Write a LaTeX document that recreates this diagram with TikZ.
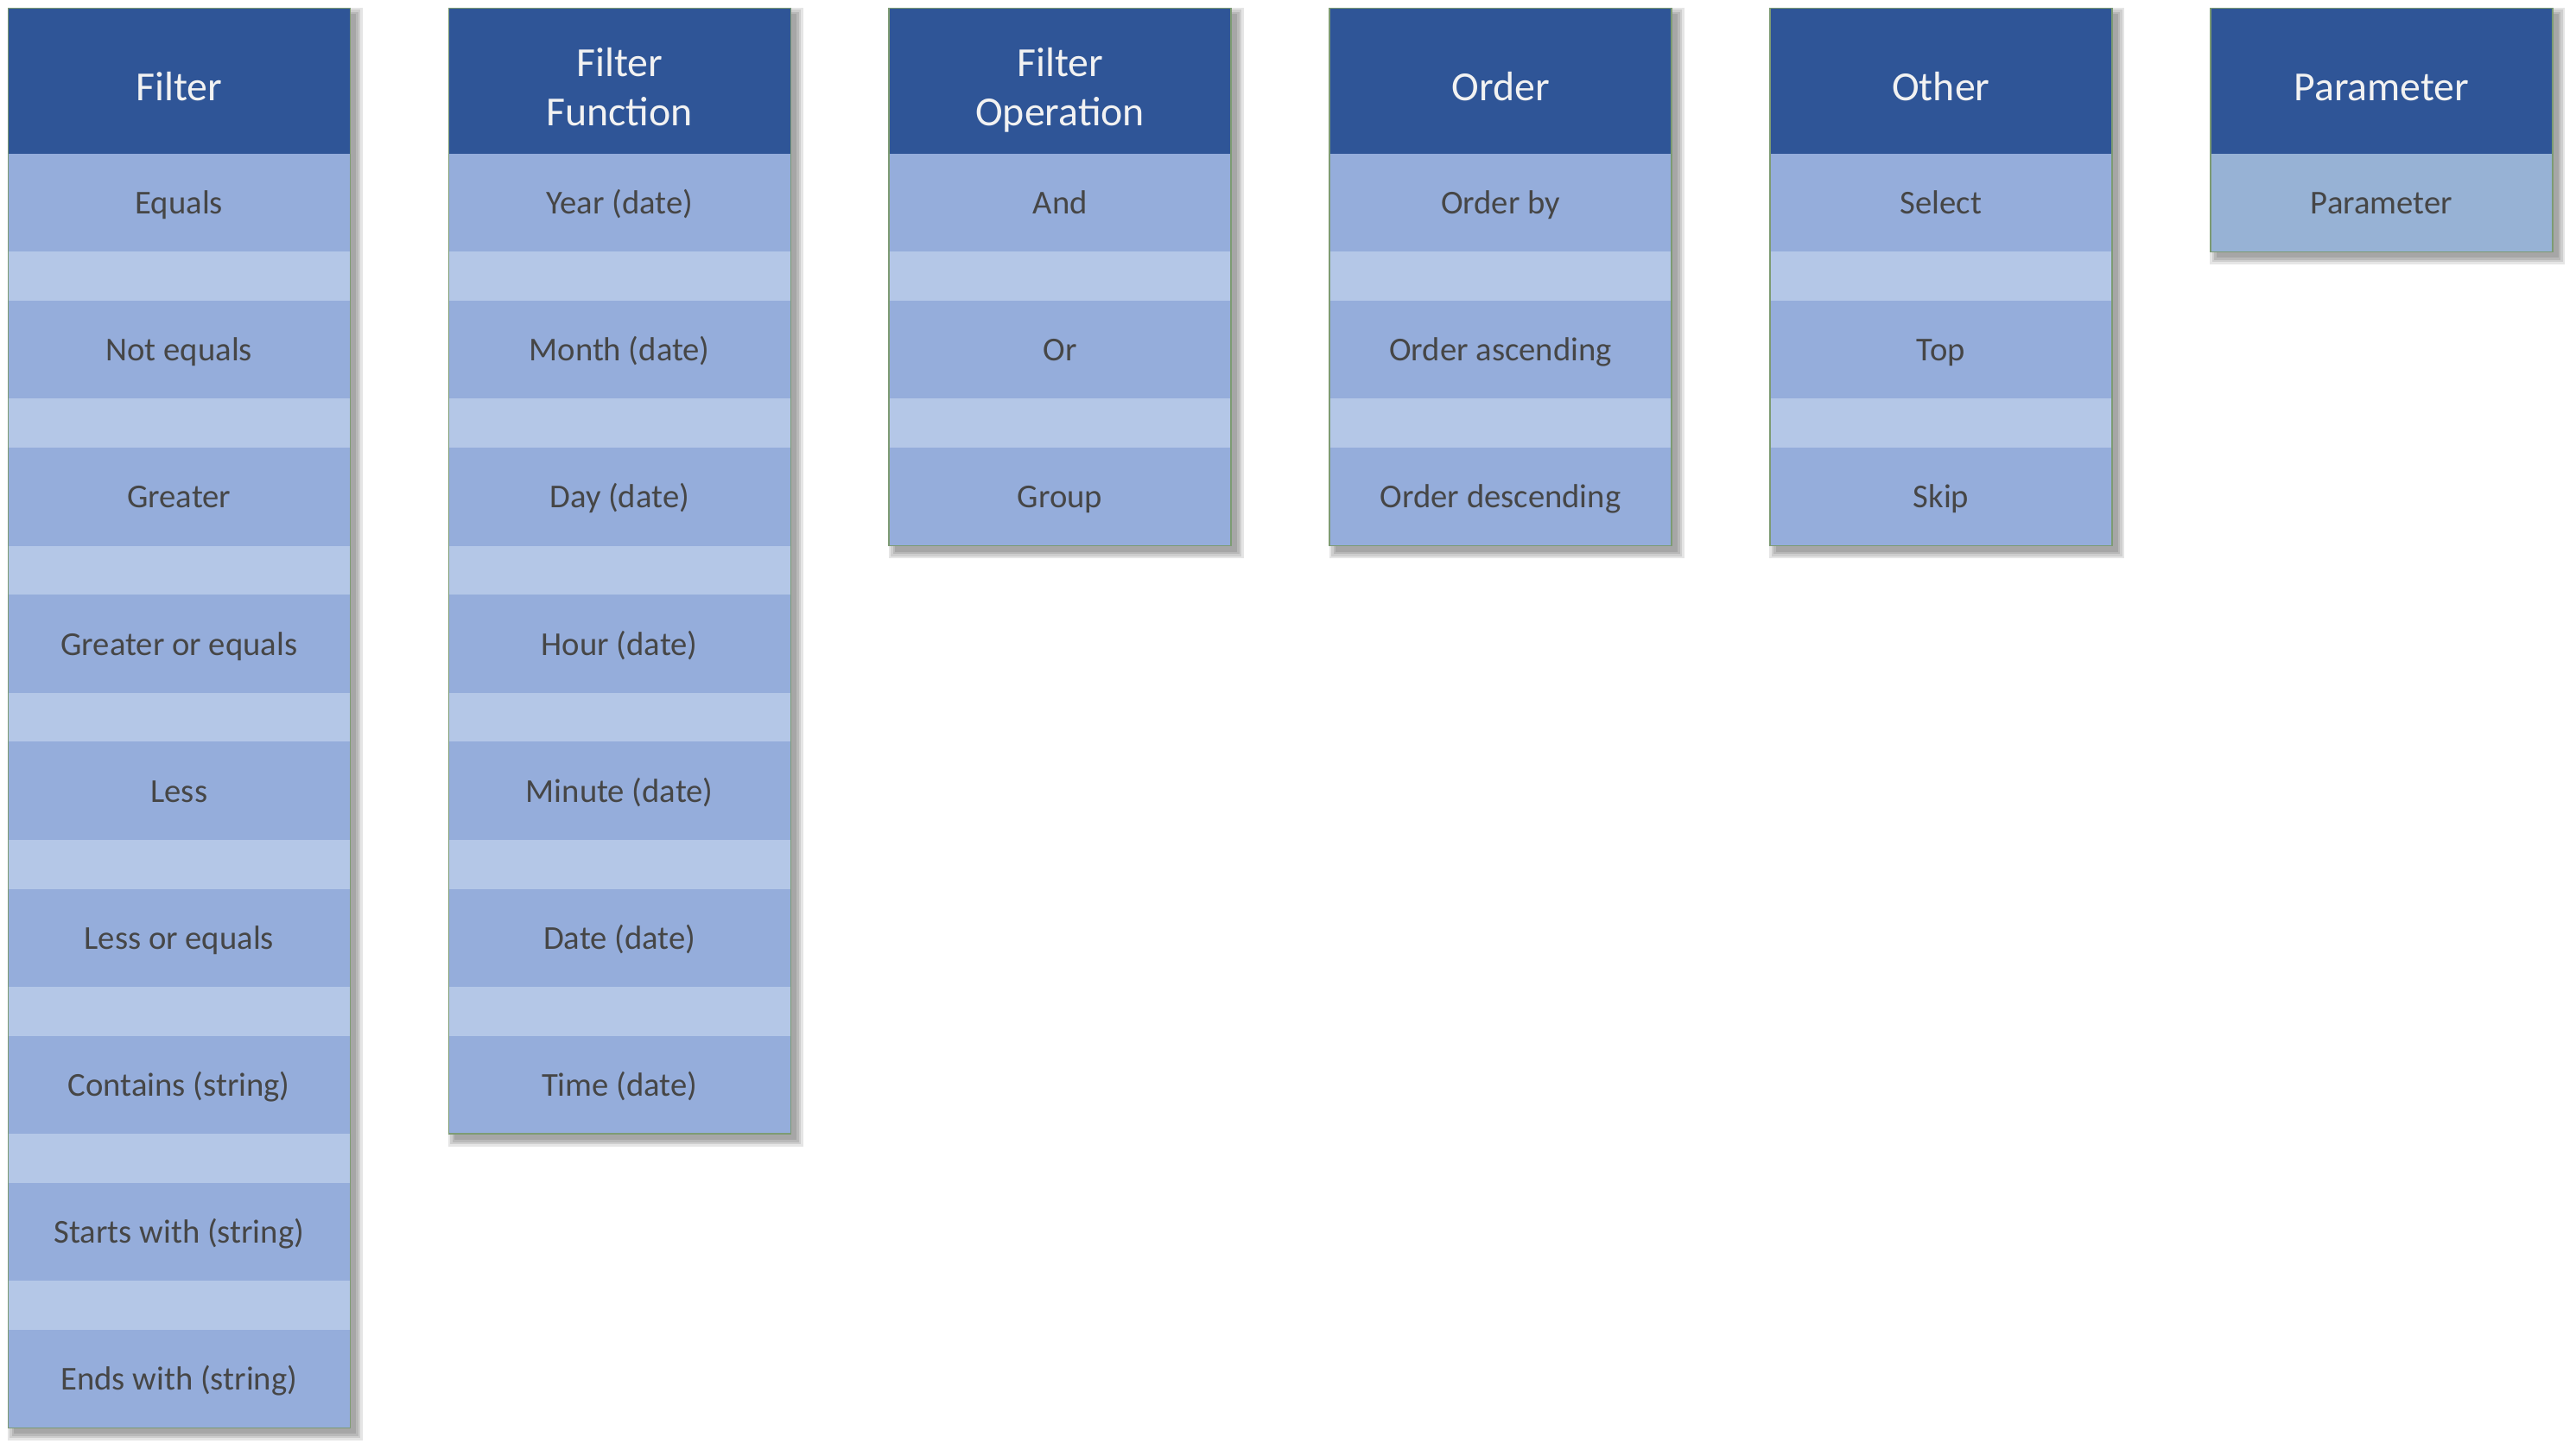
\documentclass[tikz,border=0pt]{standalone}
\usepackage{fontspec}
\setmainfont{Carlito}
\usetikzlibrary{calc, positioning, backgrounds}

\definecolor{headc}{RGB}{47,85,151}
\definecolor{itemc}{RGB}{149,173,219}
\definecolor{gapc}{RGB}{180,199,231}
\definecolor{parc}{RGB}{151,178,213}
\definecolor{edgec}{RGB}{125,155,115}
\definecolor{textc}{RGB}{70,70,70}

\tikzset{
  cell/.style={minimum width=3.96cm, outer sep=0pt, inner sep=0pt},
  head/.style={cell, fill=headc, minimum height=1.685cm, text=white!95!black,
    font=\fontsize{13.6}{16.1}\selectfont, text height=0.46cm, text depth=0pt},
  head2/.style={head, text height=1.026cm},
  item/.style={cell, fill=itemc, minimum height=1.134cm, text=textc,
    font=\fontsize{11}{13}\selectfont, text height=0.26cm, text depth=0pt},
  gap/.style={cell, fill=gapc, minimum height=0.567cm},
  frame/.style={draw=edgec, line width=0.4pt}
}

% two-line header text, baseline on its last line
\newcommand{\twoline}[2]{\begin{tabular}[b]{@{}c@{}}#1\\#2\end{tabular}}

% soft shadow and outline of one column, from its header to its last cell
\newcommand{\colframe}[2]{%
  \begin{scope}[on background layer]
    \foreach \e in {0,0.025,0.05,0.075}
      \fill[black, opacity=0.1] ($(#1.north west)+(0.07-\e,-0.07+\e)$)
        rectangle ($(#2.south east)+(0.07+\e,-0.07-\e)$);
  \end{scope}
  \draw[frame] (#1.north west) rectangle (#2.south east);}

\begin{document}
\begin{tikzpicture}
\useasboundingbox (0,0) rectangle (29.82,-16.78);

% Filter
\node[head, anchor=north west] (filt) at (0.093,-0.095) {Filter};
\node[item, below=0pt of filt] (filt1) {Equals};
\node[gap, below=0pt of filt1] (filt1g) {};
\node[item, below=0pt of filt1g] (filt2) {Not equals};
\node[gap, below=0pt of filt2] (filt2g) {};
\node[item, below=0pt of filt2g] (filt3) {Greater};
\node[gap, below=0pt of filt3] (filt3g) {};
\node[item, below=0pt of filt3g] (filt4) {Greater or equals};
\node[gap, below=0pt of filt4] (filt4g) {};
\node[item, below=0pt of filt4g] (filt5) {Less};
\node[gap, below=0pt of filt5] (filt5g) {};
\node[item, below=0pt of filt5g] (filt6) {Less or equals};
\node[gap, below=0pt of filt6] (filt6g) {};
\node[item, below=0pt of filt6g] (filt7) {Contains (string)};
\node[gap, below=0pt of filt7] (filt7g) {};
\node[item, below=0pt of filt7g] (filt8) {Starts with (string)};
\node[gap, below=0pt of filt8] (filt8g) {};
\node[item, below=0pt of filt8g] (filt9) {Ends with (string)};
\colframe{filt}{filt9}

% Filter Function
\node[head2, anchor=north west] (func) at (5.192,-0.095) {\twoline{Filter}{Function}};
\node[item, below=0pt of func] (func1) {Year (date)};
\node[gap, below=0pt of func1] (func1g) {};
\node[item, below=0pt of func1g] (func2) {Month (date)};
\node[gap, below=0pt of func2] (func2g) {};
\node[item, below=0pt of func2g] (func3) {Day (date)};
\node[gap, below=0pt of func3] (func3g) {};
\node[item, below=0pt of func3g] (func4) {Hour (date)};
\node[gap, below=0pt of func4] (func4g) {};
\node[item, below=0pt of func4g] (func5) {Minute (date)};
\node[gap, below=0pt of func5] (func5g) {};
\node[item, below=0pt of func5g] (func6) {Date (date)};
\node[gap, below=0pt of func6] (func6g) {};
\node[item, below=0pt of func6g] (func7) {Time (date)};
\colframe{func}{func7}

% Filter Operation
\node[head2, anchor=north west] (oper) at (10.291,-0.095) {\twoline{Filter}{Operation}};
\node[item, below=0pt of oper] (oper1) {And};
\node[gap, below=0pt of oper1] (oper1g) {};
\node[item, below=0pt of oper1g] (oper2) {Or};
\node[gap, below=0pt of oper2] (oper2g) {};
\node[item, below=0pt of oper2g] (oper3) {Group};
\colframe{oper}{oper3}

% Order
\node[head, anchor=north west] (ord) at (15.390,-0.095) {Order};
\node[item, below=0pt of ord] (ord1) {Order by};
\node[gap, below=0pt of ord1] (ord1g) {};
\node[item, below=0pt of ord1g] (ord2) {Order ascending};
\node[gap, below=0pt of ord2] (ord2g) {};
\node[item, below=0pt of ord2g] (ord3) {Order descending};
\colframe{ord}{ord3}

% Other
\node[head, anchor=north west] (oth) at (20.489,-0.095) {Other};
\node[item, below=0pt of oth] (oth1) {Select};
\node[gap, below=0pt of oth1] (oth1g) {};
\node[item, below=0pt of oth1g] (oth2) {Top};
\node[gap, below=0pt of oth2] (oth2g) {};
\node[item, below=0pt of oth2g] (oth3) {Skip};
\colframe{oth}{oth3}

% Parameter
\node[head, anchor=north west] (par) at (25.588,-0.095) {Parameter};
\node[item, fill=parc, below=0pt of par] (par1) {Parameter};
\colframe{par}{par1}
\end{tikzpicture}
\end{document}
